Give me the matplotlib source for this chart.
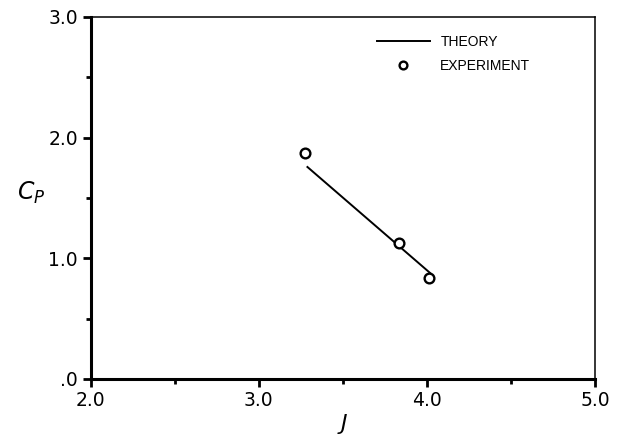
import matplotlib
matplotlib.use("Agg")
import matplotlib.pyplot as plt
from matplotlib.ticker import MultipleLocator, FixedLocator

# Data
theory_J = [3.29, 4.02]
theory_Cp = [1.757, 0.878]
exp_J = [3.274, 3.833, 4.012]
exp_Cp = [1.873, 1.127, 0.837]

x_ticks = [2.0, 3.0, 4.0, 5.0]
x_ticklabels = ["2.0", "3.0", "4.0", "5.0"]
y_ticks = [0.0, 1.0, 2.0, 3.0]
y_ticklabels = [".0", "1.0", "2.0", "3.0"]

plt.rcParams['font.family'] = ['DejaVu Sans']

fig = plt.figure(figsize=(6.24, 4.38), dpi=100)
ax = fig.add_axes([90.5/624, 1 - 379/438, 504.5/624, 362/438])

ax.plot(theory_J, theory_Cp, color='black', lw=1.4, label='THEORY')
ax.plot(exp_J, exp_Cp, linestyle='none', marker='o', markersize=7,
        markerfacecolor='white', markeredgecolor='black', markeredgewidth=1.7,
        label='EXPERIMENT')

ax.set_xlim(2.0, 5.0)
ax.set_ylim(0.0, 3.0)
ax.xaxis.set_major_locator(FixedLocator(x_ticks))
ax.set_xticklabels(x_ticklabels)
ax.yaxis.set_major_locator(FixedLocator(y_ticks))
ax.set_yticklabels(y_ticklabels)
ax.xaxis.set_minor_locator(MultipleLocator(0.5))
ax.yaxis.set_minor_locator(MultipleLocator(0.5))

ax.tick_params(which='both', direction='out', top=False, right=False, width=2.0)
ax.tick_params(which='major', length=6, labelsize=13.5, pad=3)
ax.tick_params(which='minor', length=3.5)

for s in ['left', 'bottom']:
    ax.spines[s].set_linewidth(2.2)
for s in ['top', 'right']:
    ax.spines[s].set_linewidth(1.1)

ax.set_xlabel('$J$', fontsize=16, labelpad=1)
ax.set_ylabel('$C_P$', fontsize=17, rotation=0, va='center', ha='center')
ax.yaxis.set_label_coords(-0.118, 0.514)

leg = ax.legend(loc='upper left', bbox_to_anchor=(0.568, 0.95), frameon=False,
                handlelength=3.8, handletextpad=0.75, markerscale=0.8,
                labelspacing=0.7, borderpad=0, borderaxespad=0,
                prop={'family': 'Liberation Sans', 'size': 10})

fig.savefig('out.png', dpi=100)
